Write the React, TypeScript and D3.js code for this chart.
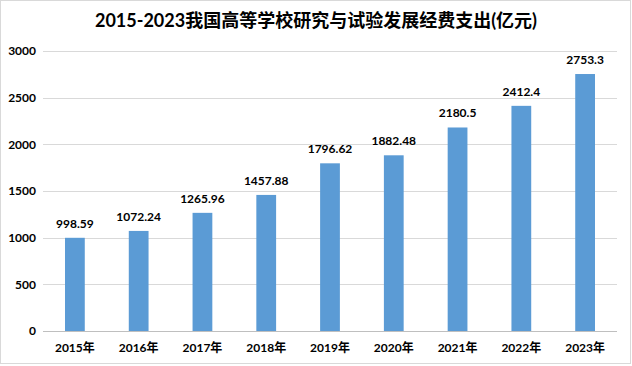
import React, { useEffect, useRef } from "react";
import * as d3 from "d3";

const years = ["2015年", "2016年", "2017年", "2018年", "2019年", "2020年", "2021年", "2022年", "2023年"];
const spending = [998.59, 1072.24, 1265.96, 1457.88, 1796.62, 1882.48, 2180.5, 2412.4, 2753.3];
const spendingLabels = ["998.59", "1072.24", "1265.96", "1457.88", "1796.62", "1882.48", "2180.5", "2412.4", "2753.3"];
const yTicks = [0, 500, 1000, 1500, 2000, 2500, 3000];

const FONT = "Lato, 'Noto Sans CJK SC', sans-serif";

const App = () => {
  const svgRef = useRef<SVGSVGElement>(null);

  useEffect(() => {
    document.body.style.margin = "0";
    const width = 632;
    const height = 366;
    const margin = { top: 51, right: 15, bottom: 35, left: 43 };

    const svg = d3.select(svgRef.current);
    svg.selectAll("*").remove();

    svg
      .append("rect")
      .attr("x", 0.5)
      .attr("y", 0.5)
      .attr("width", width - 2)
      .attr("height", height - 3)
      .attr("fill", "#fff")
      .attr("stroke", "#d9d9d9");

    svg
      .append("text")
      .attr("x", width / 2)
      .attr("y", 27)
      .attr("text-anchor", "middle")
      .style("font-family", FONT)
      .style("font-size", "18px")
      .style("font-weight", "bold")
      .attr("fill", "#000")
      .text("2015-2023我国高等学校研究与试验发展经费支出(亿元)");

    const x = d3
      .scaleBand()
      .domain(years)
      .range([margin.left, width - margin.right])
      .paddingInner(0.69)
      .paddingOuter(0.345);

    const y = d3
      .scaleLinear()
      .domain([0, 3000])
      .range([height - margin.bottom, margin.top]);

    // gridlines
    svg
      .append("g")
      .selectAll("line")
      .data(yTicks)
      .enter()
      .append("line")
      .attr("x1", margin.left)
      .attr("x2", width - margin.right)
      .attr("y1", (d) => Math.round(y(d)) + 0.5)
      .attr("y2", (d) => Math.round(y(d)) + 0.5)
      .attr("stroke", (d) => (d === 0 ? "#bfbfbf" : "#d9d9d9"))
      .attr("stroke-width", 1);

    // y tick labels
    svg
      .append("g")
      .selectAll("text")
      .data(yTicks)
      .enter()
      .append("text")
      .attr("x", 36)
      .attr("y", (d) => y(d))
      .attr("dy", "0.35em")
      .attr("text-anchor", "end")
      .style("font-family", FONT)
      .style("font-size", "12px")
      .style("font-weight", "bold")
      .attr("fill", "#000")
      .text((d) => d);

    const bars = years.map((yr, i) => ({ yr, v: spending[i], label: spendingLabels[i] }));

    svg
      .append("g")
      .selectAll("rect")
      .data(bars)
      .enter()
      .append("rect")
      .attr("x", (d) => x(d.yr)!)
      .attr("width", x.bandwidth())
      .attr("y", (d) => y(d.v))
      .attr("height", (d) => y(0) - y(d.v))
      .attr("fill", "#5b9bd5");

    svg
      .append("g")
      .selectAll("text")
      .data(bars)
      .enter()
      .append("text")
      .attr("x", (d) => x(d.yr)! + x.bandwidth() / 2)
      .attr("y", (d) => y(d.v) - 10)
      .attr("text-anchor", "middle")
      .style("font-family", FONT)
      .style("font-size", "12px")
      .style("font-weight", "bold")
      .attr("fill", "#000")
      .text((d) => d.label);

    // x labels
    svg
      .append("g")
      .selectAll("text")
      .data(years)
      .enter()
      .append("text")
      .attr("x", (d) => x(d)! + x.bandwidth() / 2)
      .attr("y", 352)
      .attr("text-anchor", "middle")
      .style("font-family", FONT)
      .style("font-size", "12px")
      .style("font-weight", "bold")
      .attr("fill", "#000")
      .text((d) => d);
  }, []);

  return <svg ref={svgRef} width={632} height={366} style={{ display: "block" }}></svg>;
};

export default App;
